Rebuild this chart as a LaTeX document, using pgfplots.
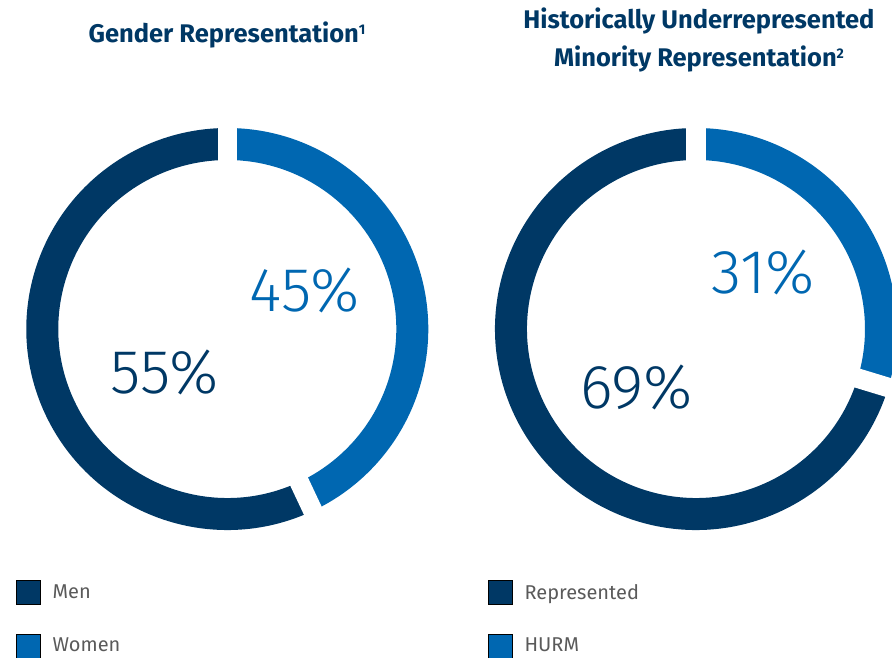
\documentclass[border=0pt]{standalone}
\usepackage{pgfplots}
\usepackage{pgfplotstable}
\usepackage{fontspec}
\pgfplotsset{compat=1.18}
\setmainfont{Fira Sans}
\newfontfamily\lightfont{Fira Sans Light}

\definecolor{navy}{HTML}{003865}
\definecolor{midblue}{HTML}{0067B1}
\definecolor{legendgray}{HTML}{5A5A5A}

% one row per donut: centre (pt), printed share of the blue slice,
% and the share the blue arc actually covers on the ring
\pgfplotstableread{
cx    cy   shown  arc
227.3 328  45     43.0
696.0 328  31     29.7
}\donuts

\pgfplotsset{
  donut/.style={
    x=1pt, y=1pt, ymin=0, ymax=657,
    hide axis, clip=true,
    legend cell align=left,
    legend image code/.code={\fill[##1] (0pt,-12pt) rectangle (24pt,12pt);},
    legend style={draw=none, fill=none, inner sep=0pt,
      font=\fontsize{20}{24}\selectfont\color{legendgray},
      row sep=29pt, column sep=12pt,
      nodes={inner sep=0pt}},
  },
}
\tikzset{
  ttl/.style={anchor=base, navy, font=\fontsize{25.5}{30}\selectfont\bfseries},
  pct/.style={anchor=base, font=\fontsize{62}{70}\selectfont\lightfont},
}
\newcommand{\footmark}[1]{\raisebox{8.5pt}{\fontsize{14}{14}\selectfont #1}}

% ring: outer radius 201, 32 thick, 19.5 wide white cuts
\newcommand{\ring}[3]{% cx, cy, arc share of blue slice
  \pgfmathsetmacro{\bnd}{90-3.6*#3}
  \draw[midblue, line width=32pt] (axis cs:#1,#2) ++(90:185pt)
    arc[start angle=90, end angle=\bnd, radius=185pt];
  \draw[navy, line width=32pt] (axis cs:#1,#2) ++(\bnd:185pt)
    arc[start angle=\bnd, end angle=-270, radius=185pt];
  \draw[white, line width=19.5pt] (axis cs:#1,#2) -- ++(90:215pt);
  \draw[white, line width=19.5pt] (axis cs:#1,#2) -- ++(\bnd:215pt);
}

\pgfplotstablegetelem{0}{cx}\of\donuts \let\cxA\pgfplotsretval
\pgfplotstablegetelem{0}{cy}\of\donuts \let\cyA\pgfplotsretval
\pgfplotstablegetelem{0}{shown}\of\donuts \let\shA\pgfplotsretval
\pgfplotstablegetelem{0}{arc}\of\donuts \let\arcA\pgfplotsretval
\pgfplotstablegetelem{1}{cx}\of\donuts \let\cxB\pgfplotsretval
\pgfplotstablegetelem{1}{cy}\of\donuts \let\cyB\pgfplotsretval
\pgfplotstablegetelem{1}{shown}\of\donuts \let\shB\pgfplotsretval
\pgfplotstablegetelem{1}{arc}\of\donuts \let\arcB\pgfplotsretval

\begin{document}
\begin{tikzpicture}
\useasboundingbox (0,0) rectangle (892pt,657pt);

% gender
\begin{axis}[donut, at={(0pt,0pt)}, anchor=south west, xmin=0, xmax=446,
  legend style={at={(16/446,77/657)}, anchor=north west}]
  \addlegendimage{fill=navy}
  \addlegendentry{Men}
  \addlegendimage{fill=midblue}
  \addlegendentry{Women}
  \ring{\cxA}{\cyA}{\arcA}
  \node[ttl] at (axis cs:227,614) {Gender Representation\footmark{1}};
  \pgfmathtruncatemacro{\other}{100-\shA}
  \node[pct, midblue] at (axis cs:304.5,345) {\shA\%};
  \node[pct, navy] at (axis cs:165,263) {\other\%};
\end{axis}

% HURM
\begin{axis}[donut, at={(446pt,0pt)}, anchor=south west, xmin=446, xmax=892,
  legend style={at={(42/446,77/657)}, anchor=north west}]
  \addlegendimage{fill=navy}
  \addlegendentry{Represented}
  \addlegendimage{fill=midblue}
  \addlegendentry{HURM}
  \ring{\cxB}{\cyB}{\arcB}
  \node[ttl] at (axis cs:699,628) {Historically Underrepresented};
  \node[ttl] at (axis cs:699,590) {Minority Representation\footmark{2}};
  \pgfmathtruncatemacro{\other}{100-\shB}
  \node[pct, midblue] at (axis cs:763.5,363) {\shB\%};
  \node[pct, navy] at (axis cs:636.5,248) {\other\%};
\end{axis}
\end{tikzpicture}
\end{document}
